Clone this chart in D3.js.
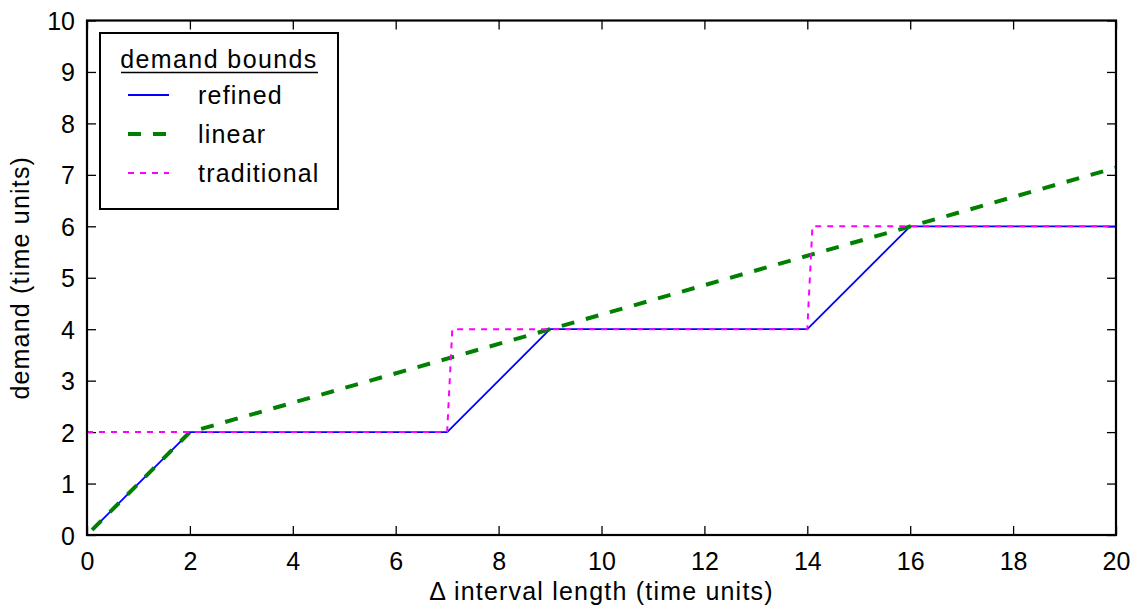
<!DOCTYPE html>
<html>
<head>
<meta charset="utf-8">
<script src="https://cdn.jsdelivr.net/npm/d3@7"></script>
<style>
  body { margin: 0; background: #fff; }
  text { font-family: "Liberation Sans", Arial, Helvetica, sans-serif; fill: #000; }
</style>
</head>
<body>
<div id="root"></div>
<script>
// Data
const refinedX = [0.1, 2, 7, 9, 14, 16, 20];
const refinedY = [0.1, 2, 2, 4, 4, 6, 6];
const linearX = [0.1, 2, 20];
const linearY = [0.1, 2, 7.14];
const traditionalX = [0, 7, 7.1, 14, 14.1, 20];
const traditionalY = [2, 2, 4, 4, 6, 6];
const xTicks = [0, 2, 4, 6, 8, 10, 12, 14, 16, 18, 20];
const yTicks = [0, 1, 2, 3, 4, 5, 6, 7, 8, 9, 10];
const seriesNames = ['refined', 'linear', 'traditional'];

const W = 1139, H = 609;
const padding = { top: 20.5, right: 23, bottom: 74, left: 87 };
const width = W - padding.left - padding.right;
const height = H - padding.top - padding.bottom;

const svg = d3.select('#root')
    .append('svg')
    .attr('width', W)
    .attr('height', H);

const g = svg.append('g')
    .attr('transform', `translate(${padding.left}, ${padding.top})`);

const x = d3.scaleLinear().domain([0, 20]).range([0, width]);
const y = d3.scaleLinear().domain([0, 10]).range([height, 0]);

// Styles
const styles = {
    refined: { color: '#0000ff', width: 1.8, dash: null },
    linear: { color: '#008000', width: 4, dash: '13,12' },
    traditional: { color: '#ff00ff', width: 2, dash: '6,6' }
};

const line = d3.line().x(d => x(d[0])).y(d => y(d[1]));
const zip = (xs, ys) => xs.map((v, i) => [v, ys[i]]);
const series = {
    refined: zip(refinedX, refinedY),
    linear: zip(linearX, linearY),
    traditional: zip(traditionalX, traditionalY)
};

// Ticks inside, on all four sides
const tickLen = 9;
g.append('g')
    .attr('transform', `translate(0,${height})`)
    .call(d3.axisBottom(x).tickValues(xTicks).tickSize(-tickLen).tickPadding(22).tickFormat(d3.format('d')))
    .call(a => a.select('.domain').remove())
    .call(a => a.selectAll('text').attr('font-size', 25).attr('dy', '0.5em'));
g.append('g')
    .call(d3.axisTop(x).tickValues(xTicks).tickSize(-tickLen).tickFormat(''))
    .call(a => a.select('.domain').remove());
g.append('g')
    .call(d3.axisLeft(y).tickValues(yTicks).tickSize(-tickLen).tickPadding(12).tickFormat(d3.format('d')))
    .call(a => a.select('.domain').remove())
    .call(a => a.selectAll('text').attr('font-size', 25).attr('dy', '0.36em'));
g.append('g')
    .attr('transform', `translate(${width},0)`)
    .call(d3.axisRight(y).tickValues(yTicks).tickSize(-tickLen).tickFormat(''))
    .call(a => a.select('.domain').remove());
g.selectAll('.tick line').attr('stroke', '#000').attr('stroke-width', 1.3);

// Lines
seriesNames.forEach(name => {
    const s = styles[name];
    g.append('path')
        .datum(series[name])
        .attr('d', line)
        .attr('fill', 'none')
        .attr('stroke', s.color)
        .attr('stroke-width', s.width)
        .attr('stroke-dasharray', s.dash);
});

// Frame
g.append('rect')
    .attr('width', width)
    .attr('height', height)
    .attr('fill', 'none')
    .attr('stroke', '#000')
    .attr('stroke-width', 2.2);

// Axis labels
svg.append('text')
    .attr('x', padding.left + width / 2)
    .attr('y', 600)
    .attr('text-anchor', 'middle')
    .attr('font-size', 25)
    .attr('letter-spacing', 1.2)
    .text('\u0394 interval length (time units)');
svg.append('text')
    .attr('transform', `translate(29, ${padding.top + height / 2}) rotate(-90)`)
    .attr('text-anchor', 'middle')
    .attr('font-size', 25)
    .attr('letter-spacing', 1.2)
    .text('demand (time units)');

// Legend
const legend = svg.append('g').attr('transform', 'translate(100, 33)');
legend.append('rect')
    .attr('width', 238)
    .attr('height', 176)
    .attr('fill', '#fff')
    .attr('stroke', '#000')
    .attr('stroke-width', 2);
legend.append('text')
    .attr('x', 119)
    .attr('y', 35)
    .attr('text-anchor', 'middle')
    .attr('font-size', 25)
    .attr('letter-spacing', 1.4)
    .text('demand bounds');
legend.append('line')
    .attr('x1', 21).attr('x2', 218)
    .attr('y1', 39.5).attr('y2', 39.5)
    .attr('stroke', '#000')
    .attr('stroke-width', 1.6);
seriesNames.forEach((name, i) => {
    const s = styles[name];
    const yy = 62 + i * 39;
    legend.append('line')
        .attr('x1', 28).attr('x2', 69)
        .attr('y1', yy).attr('y2', yy)
        .attr('stroke', s.color)
        .attr('stroke-width', s.width)
        .attr('stroke-dasharray', s.dash);
    legend.append('text')
        .attr('x', 98)
        .attr('y', yy)
        .attr('dy', '0.35em')
        .attr('font-size', 25)
        .attr('letter-spacing', 1.2)
        .text(name);
});
</script>
</body>
</html>
